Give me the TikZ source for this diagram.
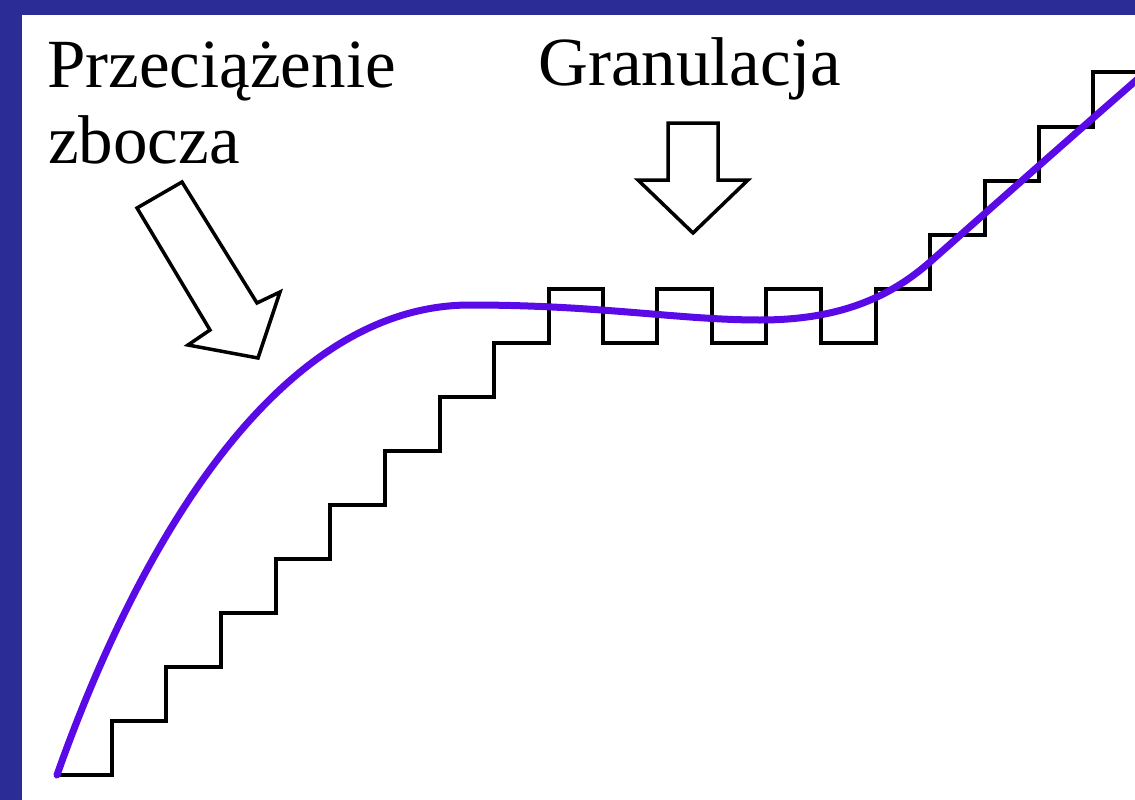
\documentclass[tikz,border=0pt]{standalone}
\usepackage{fontspec}
\setmainfont{Liberation Serif}
\definecolor{frameblue}{RGB}{44,44,150}
\definecolor{curveviolet}{RGB}{90,10,230}
\tikzset{
  lbl/.style={anchor=base west, inner sep=0pt, font=\fontsize{69}{75}\selectfont},
  stair/.style={draw=black, line width=3.5pt, line join=miter},
  hollowarrow/.style={draw=black, fill=white, line width=3.5pt, line join=miter},
  signal/.style={draw=curveviolet, line width=7pt, line cap=round}
}
\begin{document}
\begin{tikzpicture}[x=1pt,y=-1pt]
\useasboundingbox (0,0) rectangle (1135,800);
\fill[white] (0,0) rectangle (1135,800);
% frame
\fill[frameblue] (0,0) rectangle (1135,15);
\fill[frameblue] (0,0) rectangle (22,800);
% labels
\node[lbl] (l1) at (47,88) {Przeciążenie};
\node[lbl] (l2) at (48,163) {zbocza};
\node[lbl] (g) at (538,85) {Granulacja};
% staircase
\draw[stair] (57,775)
  -- (112,775) -- (112,721) -- (166,721) -- (166,667) -- (221,667) -- (221,613)
  -- (276,613) -- (276,559) -- (330,559) -- (330,505) -- (385,505) -- (385,451)
  -- (440,451) -- (440,397) -- (494,397) -- (494,343) -- (549,343) -- (549,289)
  -- (603,289) -- (603,343) -- (657,343) -- (657,289) -- (712,289) -- (712,343)
  -- (766,343) -- (766,289) -- (821,289) -- (821,343) -- (876,343) -- (876,289)
  -- (930,289) -- (930,235) -- (985,235) -- (985,181) -- (1039,181) -- (1039,127)
  -- (1093,127) -- (1093,72) -- (1140,72);
% signal curve
\draw[signal] (57,775) .. controls (140,540) and (280,305) .. (470,305)
  .. controls (600,305) and (680,320) .. (760,320)
  .. controls (840,320) and (890,297) .. (930,262)
  .. controls (1000,200) and (1070,138) .. (1140,77);
% slanted arrow (slope overload)
\draw[hollowarrow] (182,182) -- (257,303) -- (280,292) -- (258,358)
  -- (188,345) -- (210,330) -- (137,208) -- cycle;
% down arrow (granular noise)
\draw[hollowarrow] (668,123) -- (718,123) -- (718,180) -- (748,180)
  -- (693,233) -- (638,180) -- (668,180) -- cycle;
\end{tikzpicture}
\end{document}
